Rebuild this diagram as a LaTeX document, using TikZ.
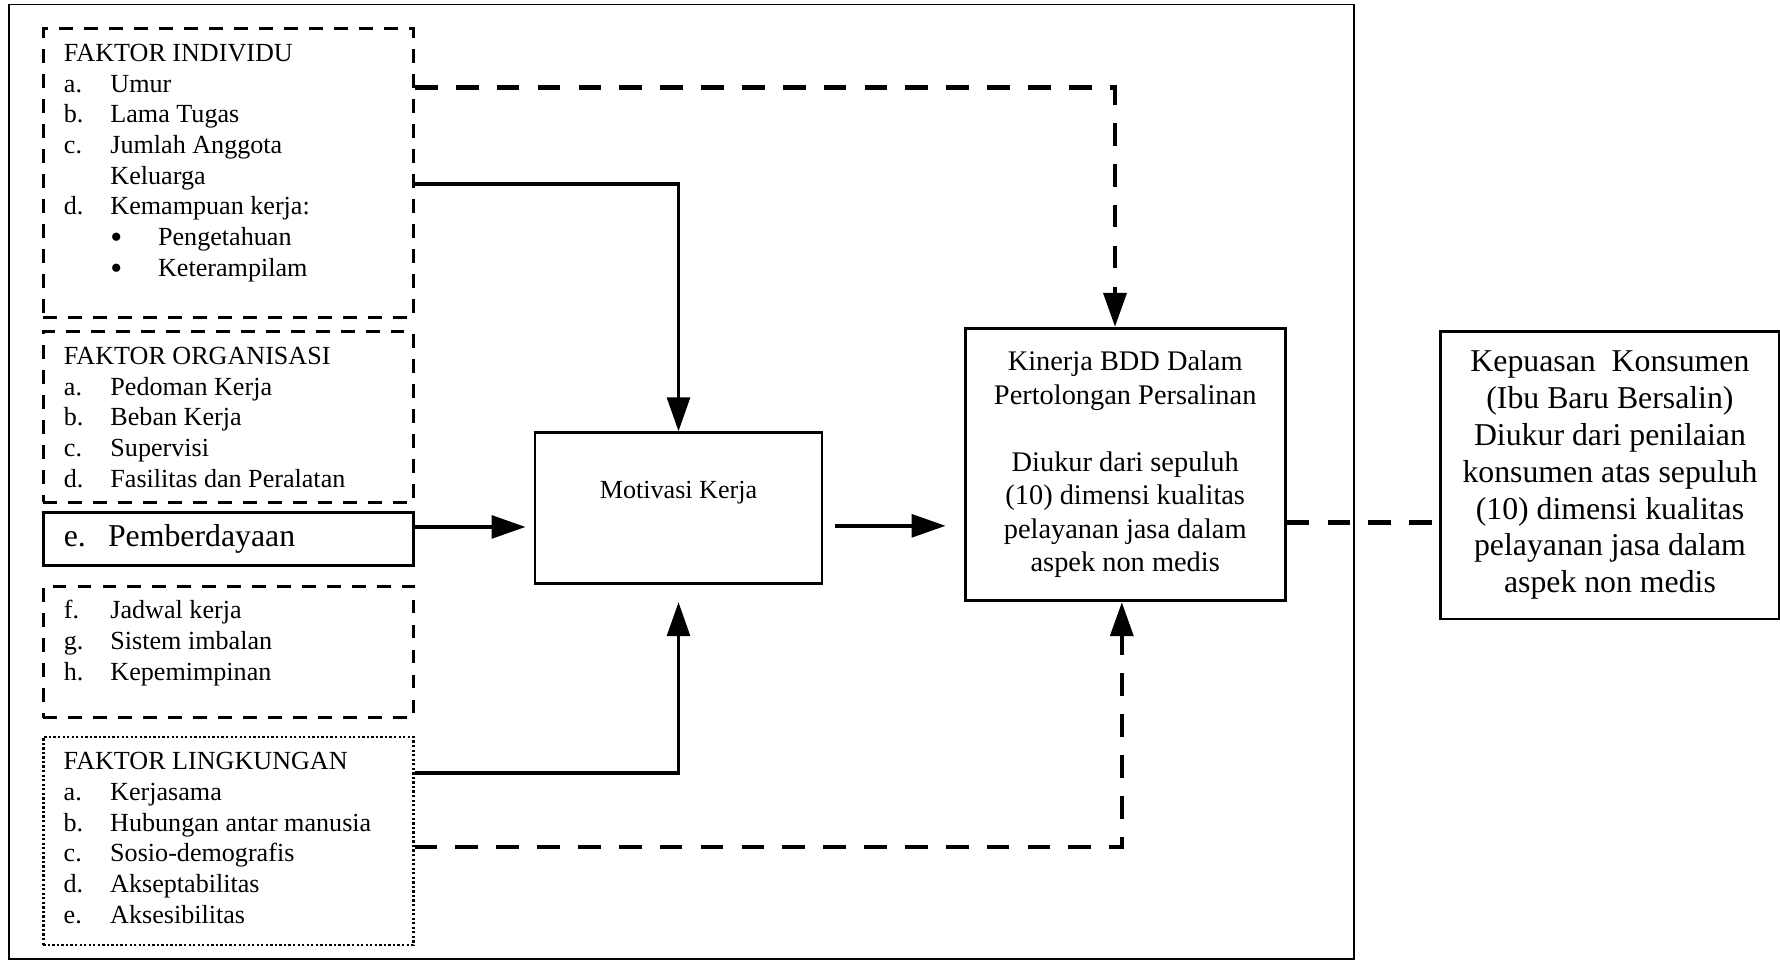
\documentclass[tikz,border=0pt]{standalone}
\usepackage{fontspec}
\setmainfont{Liberation Serif}
\usetikzlibrary{positioning, arrows.meta}

% list lines inside the factor boxes
\newcommand{\fitem}[2]{\strut\makebox[20.5pt][l]{#1}#2\par}
\newcommand{\fsub}[1]{\strut\hspace*{20.5pt}\makebox[21pt][l]{\raisebox{-1.5pt}{\fontsize{15}{13.5}\selectfont\textbullet}}#1\par}

\begin{document}
\begin{tikzpicture}[
    x=0.5pt, y=0.5pt,
    % Styles for boxes
    factbox/.style={draw, rectangle, line width=1.3pt, dash pattern=on 6pt off 5pt, anchor=north west, inner xsep=9pt, inner ysep=5pt, font=\fontsize{11.5}{13.5}\selectfont},
    dotbox/.style={factbox, line width=1.1pt, dash pattern=on 1pt off 1pt},
    ebox/.style={draw, rectangle, line width=1.2pt, anchor=north west, minimum width=163pt, minimum height=23.5pt, text width=145pt, inner xsep=9pt, inner ysep=0pt, align=left, font=\fontsize{14}{16}\selectfont},
    solidbox/.style={draw, rectangle, line width=1.2pt, anchor=north west, align=center, font=\fontsize{11.5}{13.5}\selectfont},
    frame/.style={draw, line width=0.8pt},
    % Styles for connectors
    conn/.style={line width=1.7pt, -{Triangle[length=15pt,width=10pt]}},
    dconn/.style={conn, line width=2pt, dash pattern=on 10pt off 8pt},
    dline/.style={line width=2pt, dash pattern=on 10pt off 8pt}
]
    \useasboundingbox (0,0) rectangle (1568,848);
    \draw [frame] (8,844) rectangle (1193,3);

    % Factor boxes on the left
    \node (indiv) [factbox] at (37,824) {\parbox[t][117pt][t]{145pt}{\strut FAKTOR INDIVIDU\par
        \fitem{a.}{Umur}
        \fitem{b.}{Lama Tugas}
        \fitem{c.}{Jumlah Anggota}
        \strut\hspace*{20.5pt}Keluarga\par
        \fitem{d.}{Kemampuan kerja:}
        \fsub{Pengetahuan}
        \fsub{Keterampilam}}};

    \node (organ) [factbox, below=5.2pt of indiv.south west, anchor=north west] {\parbox[t][65pt][t]{145pt}{\strut FAKTOR ORGANISASI\par
        \fitem{a.}{Pedoman Kerja}
        \fitem{b.}{Beban Kerja}
        \fitem{c.}{Supervisi}
        \fitem{d.}{Fasilitas dan Peralatan}}};

    \node (pember) [ebox, below=3.2pt of organ.south west, anchor=north west] {\makebox[19.5pt][l]{e.}Pemberdayaan};

    \node (jadwal) [factbox, below=7.8pt of pember.south west, anchor=north west] {\parbox[t][48pt][t]{145pt}{
        \fitem{f.}{Jadwal kerja}
        \fitem{g.}{Sistem imbalan}
        \fitem{h.}{Kepemimpinan}}};

    \node (lingk) [dotbox, below=7.3pt of jadwal.south west, anchor=north west] {\parbox[t][81.5pt][t]{145pt}{\strut FAKTOR LINGKUNGAN\par
        \fitem{a.}{Kerjasama}
        \fitem{b.}{Hubungan antar manusia}
        \fitem{c.}{Sosio-demografis}
        \fitem{d.}{Akseptabilitas}
        \fitem{e.}{Aksesibilitas}}};

    % Middle and right boxes
    \node (motiv) [solidbox, minimum width=126.5pt, minimum height=66.5pt, text height=8pt, text depth=16.5pt] at (470,468) {Motivasi Kerja};

    \node (kinerja) [solidbox, minimum width=141pt, minimum height=120pt, font=\fontsize{12.5}{14.75}\selectfont] at (849,560) {Kinerja BDD Dalam\\Pertolongan Persalinan\\[14.75pt]Diukur dari sepuluh\\(10) dimensi kualitas\\pelayanan jasa dalam\\aspek non medis};

    \node (kepuasan) [solidbox, minimum width=149pt, minimum height=126.5pt, font=\fontsize{14}{16.2}\selectfont] at (1268,557) {Kepuasan~ Konsumen\\(Ibu Baru Bersalin)\\Diukur dari penilaian\\konsumen atas sepuluh\\(10) dimensi kualitas\\pelayanan jasa dalam\\aspek non medis};

    % Arrows
    \draw [dconn] ([yshift=-26.5pt]indiv.north east) -| ([xshift=-4.5pt]kinerja.north);
    \draw [conn] ([yshift=-69pt]indiv.north east) -| (motiv.north);
    \draw [conn, shorten >=3.5pt] ([yshift=5.25pt]pember.east) -- ([yshift=5.25pt]pember.east -| motiv.west);
    \draw [conn, shorten <=5pt, shorten >=8pt] ([yshift=-7.75pt]motiv.east) -- ([yshift=-7.75pt]motiv.east -| kinerja.west);
    \draw [conn, shorten >=7.5pt] ([yshift=-16.5pt]lingk.north east) -| (motiv.south);
    \draw [dconn] ([yshift=-49pt]lingk.north east) -| ([xshift=-1.5pt]kinerja.south);
    \draw [dline] ([yshift=-25.5pt]kinerja.east) -- ([yshift=-25.5pt]kinerja.east -| kepuasan.west);

\end{tikzpicture}
\end{document}
